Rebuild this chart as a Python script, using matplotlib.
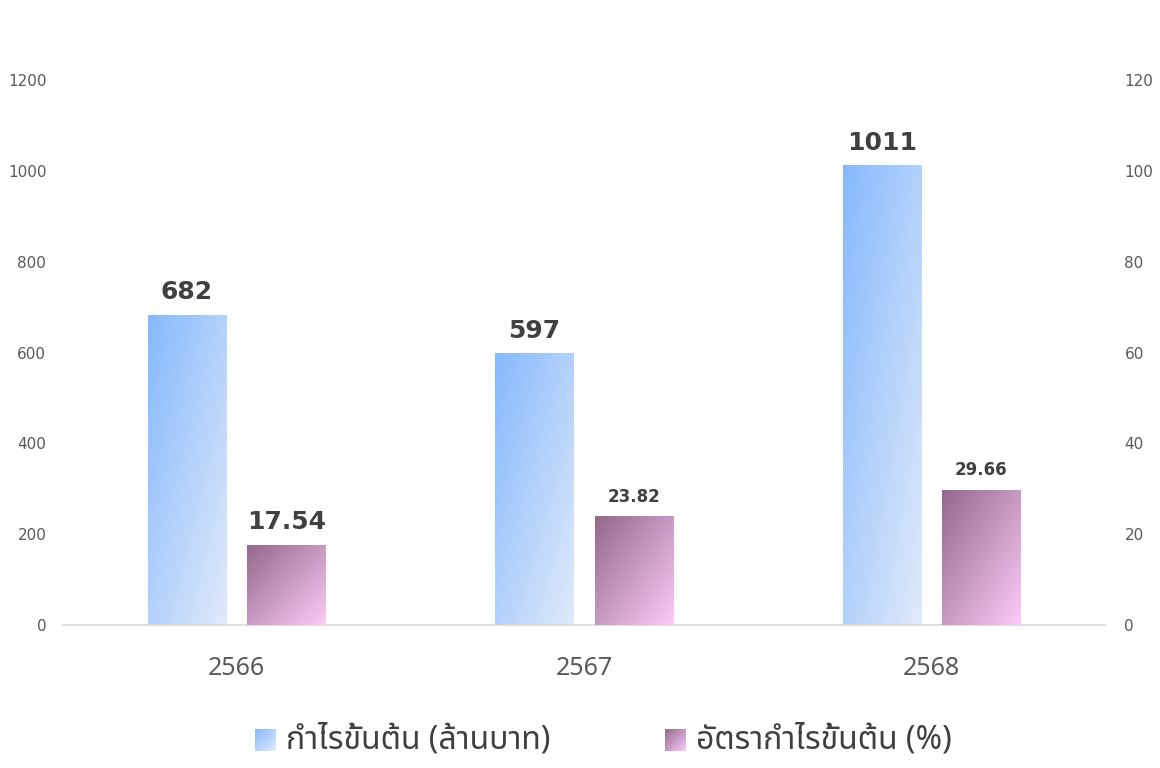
import numpy as np
import matplotlib
matplotlib.use('Agg')
import matplotlib.pyplot as plt
from matplotlib import font_manager
from matplotlib.ft2font import FT2Font
from matplotlib.colors import to_rgb

# Data
years = ['2566', '2567', '2568']
gross_profit = [682, 597, 1011]          # million baht (left axis)
gross_margin = [17.54, 23.82, 29.66]     # percent (right axis)
series_names = ['กำไรขั้นต้น (ล้านบาท)', 'อัตรากำไรขั้นต้น (%)']

# find a font that has Thai glyphs
thai_family = None
preferred = ['Noto Sans Thai', 'Noto Sans Thai UI', 'Noto Sans', 'Loma', 'Garuda', 'Tlwg Typo']
candidates = []
for f in font_manager.fontManager.ttflist:
    try:
        if 0x0E01 in FT2Font(f.fname).get_charmap():
            candidates.append(f.name)
    except Exception:
        pass
for p in preferred:
    if p in candidates:
        thai_family = p
        break
if thai_family is None and candidates:
    thai_family = candidates[0]
thai_fonts = [thai_family, 'DejaVu Sans'] if thai_family else ['DejaVu Sans']

plt.rcParams['font.family'] = ['DejaVu Sans']

blue_grad = ('#86b9fd', '#e0eafb')
purple_grad = ('#93698c', '#fdcaf9')


def gradient_img(c0, c1, n=64):
    u = np.linspace(0, 1, n)[None, :]
    v = np.linspace(0, 1, n)[:, None]   # 0 bottom, 1 top (origin lower)
    t = (u + (1 - v)) / 2
    a, b = np.array(to_rgb(c0)), np.array(to_rgb(c1))
    return a[None, None, :] * (1 - t[..., None]) + b[None, None, :] * t[..., None]


def fill_gradient(ax, bars, colors):
    img = gradient_img(*colors)
    for bar in bars:
        x0, y0 = bar.get_x(), bar.get_y()
        w, h = bar.get_width(), bar.get_height()
        bar.set_facecolor('none')
        ax.imshow(img, extent=[x0, x0 + w, y0, y0 + h], origin='lower',
                  aspect='auto', zorder=2, interpolation='bilinear')


fig = plt.figure(figsize=(11.6, 7.68), dpi=100)
ax1 = fig.add_axes([0.0543, 0.1862, 0.8983, 0.7096])
ax2 = ax1.twinx()

x = np.arange(len(years))
width = 0.225
offset = 0.143

b1 = ax1.bar(x - offset, gross_profit, width, linewidth=0, zorder=2)
b2 = ax2.bar(x + offset, gross_margin, width, linewidth=0, zorder=2)
fill_gradient(ax1, b1, blue_grad)
fill_gradient(ax2, b2, purple_grad)

ax1.set_xlim(-0.5, 2.5)
ax1.set_ylim(0, 1200)
ax2.set_ylim(0, 120)
ax1.set_yticks(range(0, 1201, 200))
ax2.set_yticks(range(0, 121, 20))
ax1.set_xticks(x)
ax1.set_xticklabels(years, fontsize=18, color='#595959', family=thai_fonts)

for a in (ax1, ax2):
    for s in a.spines.values():
        s.set_visible(False)
ax1.spines['bottom'].set_visible(True)
ax1.spines['bottom'].set_color('#d9d9d9')
ax1.spines['bottom'].set_linewidth(1.2)

ax1.tick_params(axis='y', length=0, pad=12, labelsize=11, labelcolor='#595959')
ax2.tick_params(axis='y', length=0, pad=14, labelsize=11, labelcolor='#595959')
ax1.tick_params(axis='x', length=0, pad=22)

# value labels
blue_sizes = [18, 18, 18]
purple_sizes = [18, 12, 12]
for bar, v, fs in zip(b1, gross_profit, blue_sizes):
    ax1.annotate(f'{v}', (bar.get_x() + bar.get_width() / 2, v),
                 xytext=(0, 8), textcoords='offset points', ha='center', va='bottom',
                 fontsize=fs, fontweight='bold', color='#404040')
for bar, v, fs in zip(b2, gross_margin, purple_sizes):
    ax2.annotate(f'{v:.2f}', (bar.get_x() + bar.get_width() / 2, v),
                 xytext=(0, 8), textcoords='offset points', ha='center', va='bottom',
                 fontsize=fs, fontweight='bold', color='#404040')

# legend with gradient swatches
for (lx, col, name) in [(255, blue_grad, series_names[0]), (665, purple_grad, series_names[1])]:
    sw = fig.add_axes([lx / 1160, 1 - 751 / 768, 21 / 1160, 22 / 768])
    sw.imshow(gradient_img(*col), origin='lower', aspect='auto', extent=[0, 1, 0, 1])
    sw.axis('off')
    fig.text((lx + 31) / 1160, 1 - 740 / 768, name, fontsize=23, color='#404040',
             va='center', ha='left', family=thai_fonts)

fig.savefig('out.png', dpi=100)
